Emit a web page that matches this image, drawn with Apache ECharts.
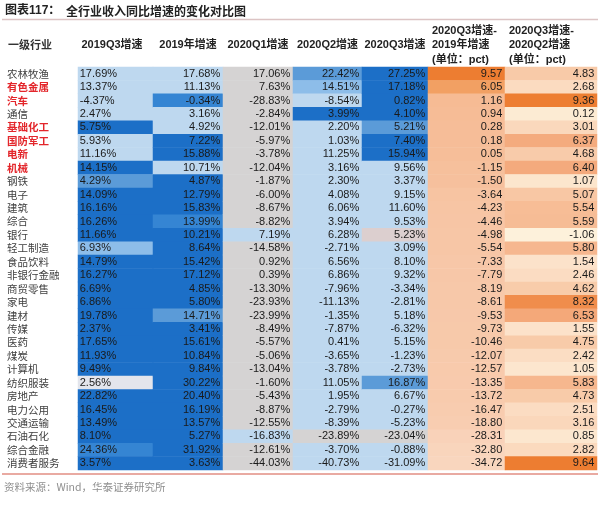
<!DOCTYPE html>
<html><head><meta charset="utf-8">
<script src="https://cdn.jsdelivr.net/npm/echarts/dist/echarts.min.js"></script>
<style>html,body{margin:0;padding:0;background:#fff}#c{width:600px;height:505px}</style>
</head><body><div id="c"></div>
<script>
// ---------------- data ----------------
const industries = ['农林牧渔','有色金属','汽车','通信','基础化工','国防军工','电新','机械','钢铁','电子','建筑','综合','银行','轻工制造','食品饮料','非银行金融','商贸零售','家电','建材','传媒','医药','煤炭','计算机','纺织服装','房地产','电力公用','交通运输','石油石化','综合金融','消费者服务'];
const highlighted = ['有色金属','汽车','基础化工','国防军工','电新','机械'];
const columnHeaders = ['2019Q3增速','2019年增速','2020Q1增速','2020Q2增速','2020Q3增速','2020Q3增速-\n2019年增速\n(单位：pct)','2020Q3增速-\n2020Q2增速\n(单位：pct)'];
const growth2019Q3 = [17.69,13.37,-4.37,2.47,5.75,5.93,11.16,14.15,4.29,14.09,16.16,16.26,11.66,6.93,14.79,16.27,6.69,6.86,19.78,2.37,17.65,11.93,9.49,2.56,22.82,16.45,13.49,8.10,24.36,3.57];
const growth2019 = [17.68,11.13,-0.34,3.16,4.92,7.22,15.88,10.71,4.87,12.79,15.83,13.99,10.21,8.64,15.42,17.12,4.85,5.80,14.71,3.41,15.61,10.84,9.84,30.22,20.40,16.19,13.57,5.27,31.92,3.63];
const growth2020Q1 = [17.06,7.63,-28.83,-2.84,-12.01,-5.97,-3.78,-12.04,-1.87,-6.00,-8.67,-8.82,7.19,-14.58,0.92,0.39,-13.30,-23.93,-23.99,-8.49,-5.57,-5.06,-13.04,-1.60,-5.43,-8.87,-12.55,-16.83,-12.61,-44.03];
const growth2020Q2 = [22.42,14.51,-8.54,3.99,2.20,1.03,11.25,3.16,2.30,4.08,6.06,3.94,6.28,-2.71,6.56,6.86,-7.96,-11.13,-1.35,-7.87,0.41,-3.65,-3.78,11.05,1.95,-2.79,-8.39,-23.89,-3.70,-40.73];
const growth2020Q3 = [27.25,17.18,0.82,4.10,5.21,7.40,15.94,9.56,3.37,9.15,11.60,9.53,5.23,3.09,8.10,9.32,-3.34,-2.81,5.18,-6.32,5.15,-1.23,-2.73,16.87,6.67,-0.27,-5.23,-23.04,-0.88,-31.09];
const diffVs2019 = [9.57,6.05,1.16,0.94,0.28,0.18,0.05,-1.15,-1.50,-3.64,-4.23,-4.46,-4.98,-5.54,-7.33,-7.79,-8.19,-8.61,-9.53,-9.73,-10.46,-12.07,-12.57,-13.35,-13.72,-16.47,-18.80,-28.31,-32.80,-34.72];
const diffVsQ2 = [4.83,2.68,9.36,0.12,3.01,6.37,4.68,6.40,1.07,5.07,5.54,5.59,-1.06,5.80,1.54,2.46,4.62,8.32,6.53,1.55,4.75,2.42,1.05,5.83,4.73,2.51,3.16,0.85,2.82,9.64];
// shade class of each blue-column cell
const shade2019Q3 = 'L L L L D L L D M D D D D ML D D D D D D D D D P D D D D MD D'.split(' ');
const shade2019   = 'L L MD L L D D L D D D MD D D D D D D M D D D D D D D D D D D'.split(' ');
const shade2020Q1 = 'G G G G G G G G G G G G L G G G G G G G G G G G G G G L G G'.split(' ');
const shade2020Q2 = 'M ML L D L L L L L L L L L L L L L L L L L L L L L L L G L L'.split(' ');
const shade2020Q3 = 'D D D D M D D L L L L L PG L L L L L L L L L L M L L L G L L'.split(' ');

// ---------------- styles ----------------
const SHADE = {L:'#bed8ef', ML:'#8dbde9', M:'#5b9bd8', MD:'#3585d3', D:'#1c6fc7', G:'#d5d3d3', PG:'#dccfcf', P:'#e3e5ec'};
const orangeStops6 = [[-35,[249,214,190]],[-5,[247,198,166]],[1,[246,188,150]],[6,[242,160,100]],[9.6,[237,125,49]]];
const orangeStops7 = [[-1.1,[253,241,219]],[1,[252,230,206]],[2.5,[251,220,194]],[5,[248,201,166]],[6.5,[244,168,122]],[9.4,[237,125,49]]];
function ramp(stops, v){
  if (v <= stops[0][0]) return rgb(stops[0][1]);
  for (let i=1;i<stops.length;i++){
    if (v <= stops[i][0]) {
      const t=(v-stops[i-1][0])/(stops[i][0]-stops[i-1][0]);
      const a=stops[i-1][1], b=stops[i][1];
      return rgb(a.map((x,k)=>x+(b[k]-x)*t));
    }
  }
  return rgb(stops[stops.length-1][1]);
}
function rgb(c){return 'rgb('+c.map(Math.round).join(',')+')';}

const colEdges = [78,153,223,293,362,428,505,597];
const gridTop = 67, gridHeight = 403;
const numFont = '"Liberation Sans", Arial, sans-serif';
const cjkFont = '"Liberation Sans", "Noto Sans CJK SC", sans-serif';

const columns = [
  {values: growth2019Q3, color: i=>SHADE[shade2019Q3[i]], pct:true, left:true},
  {values: growth2019, color: i=>SHADE[shade2019[i]], pct:true},
  {values: growth2020Q1, color: i=>SHADE[shade2020Q1[i]], pct:true},
  {values: growth2020Q2, color: i=>SHADE[shade2020Q2[i]], pct:true},
  {values: growth2020Q3, color: i=>SHADE[shade2020Q3[i]], pct:true},
  {values: diffVs2019, color: i=>ramp(orangeStops6, diffVs2019[i]), pct:false},
  {values: diffVsQ2, color: i=>ramp(orangeStops7, diffVsQ2[i]), pct:false}
];

const grids=[], xAxes=[], yAxes=[], series=[];
columns.forEach((col, c) => {
  grids.push({left: colEdges[c], width: colEdges[c+1]-colEdges[c], top: gridTop, height: gridHeight});
  xAxes.push({type:'category', gridIndex:c, data:[columnHeaders[c]], show:false});
  yAxes.push({
    type:'category', gridIndex:c, data: industries, inverse:true, show: c===0,
    axisLine:{show:false}, axisTick:{show:false}, splitLine:{show:false},
    axisLabel: c===0 ? {
      margin: 71, align:'left', interval:0,
      formatter: v => (highlighted.includes(v) ? '{r|' : '{n|') + v + '}',
      rich: {
        r:{color:'#e3262b', fontWeight:'bold', fontSize:10.5, fontFamily:'"Noto Sans CJK SC", sans-serif'},
        n:{color:'#404040', fontSize:10.5, fontFamily:'"Noto Sans CJK SC", sans-serif'}
      }
    } : {show:false}
  });
  series.push({
    type:'heatmap', xAxisIndex:c, yAxisIndex:c,
    data: col.values.map((v,i)=>({value:[0,i,v], itemStyle:{color: col.color(i)}})),
    label:{
      show:true, position: col.left ? 'insideLeft' : 'insideRight', distance: col.left ? 2 : 3,
      fontFamily: numFont, fontSize: 11, color:'#1a1a1a',
      formatter: p => col.pct ? p.value[2].toFixed(2)+'%' : p.value[2].toFixed(2)
    },
    emphasis:{disabled:true}, silent:true
  });
});

// header texts
const headerGraphics = [];
headerGraphics.push({type:'text', left: 8, top: 39, style:{text:'一级行业', fill:'#333', fontSize:11, fontWeight:'bold', fontFamily:'"Noto Sans CJK SC", sans-serif'}});
columnHeaders.forEach((h, c) => {
  const multi = h.indexOf('\n')>=0;
  headerGraphics.push({
    type:'text',
    x: c===0 ? 112 : (multi ? colEdges[c]+4 : (colEdges[c]+colEdges[c+1])/2),
    y: 45,
    style:{text:h, fill:'#222', fontSize:11, fontWeight:'bold', fontFamily:cjkFont,
      align: multi ? 'left' : 'center', verticalAlign:'middle', lineHeight:14.5}
  });
});

const chart = echarts.init(document.getElementById('c'), null, {renderer:'canvas'});
chart.setOption({
  animation:false,
  backgroundColor:'#fff',
  grid: grids, xAxis: xAxes, yAxis: yAxes, series: series,
  graphic: [
    {type:'text', left:5, top:5, style:{text:'图表117：', fill:'#222', fontSize:12, fontWeight:'bold', fontFamily:cjkFont}},
    {type:'text', left:66, top:5, style:{text:'全行业收入同比增速的变化对比图', fill:'#222', fontSize:12, fontWeight:'bold', fontFamily:'"Noto Sans CJK SC", sans-serif'}},
    {type:'line', shape:{x1:2,y1:19.5,x2:598,y2:19.5}, style:{stroke:'#dcc4c4', lineWidth:1.5}},
    {type:'line', shape:{x1:2,y1:474,x2:598,y2:474}, style:{stroke:'#e9aaa2', lineWidth:2}},
    {type:'text', left:4, top:482, style:{text:'资料来源：Wind，华泰证券研究所', fill:'#8f8f8f', fontSize:10.5, fontFamily:'"Noto Sans CJK SC", sans-serif'}}
  ].concat(headerGraphics)
});
</script></body></html>
